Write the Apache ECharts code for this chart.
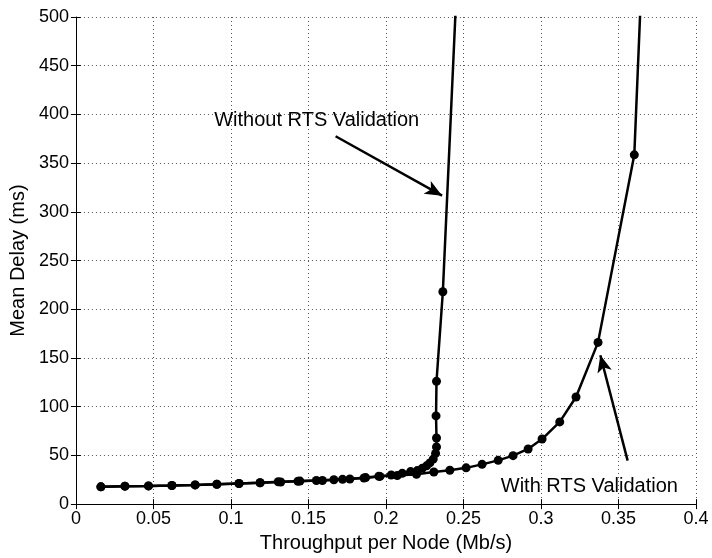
<!DOCTYPE html>
<html>
<head>
<meta charset="utf-8">
<script src="https://cdn.jsdelivr.net/npm/echarts@6/dist/echarts.min.js"></script>
<style>html,body{margin:0;padding:0;background:#fff;}#c{width:712px;height:558px;}</style>
</head>
<body>
<div id="c"></div>
<script>
// Data
var withoutX = [0.0161,0.0316,0.0468,0.0619,0.0769,0.0909,0.1052,0.1188,0.1321,0.1445,0.1590,0.1720,0.1858,0.1961,0.2034,0.2105,0.2159,0.2202,0.2234,0.2262,0.2283,0.2305,0.2320,0.2326,0.2326,0.2323,0.2326,0.2367,0.2490];
var withoutY = [17.7,18.4,18.7,19.1,19.7,20.4,21.2,21.9,22.7,23.6,24.2,25.4,26.8,28.4,29.9,31.6,33.4,34.4,36.7,39.3,42.3,46.2,52.0,58.7,67.9,90.5,126,218,650];
var withX = [0.0161,0.0316,0.0468,0.0619,0.0769,0.0909,0.1052,0.1188,0.1305,0.1432,0.1551,0.1664,0.1767,0.1869,0.1954,0.2073,0.2197,0.2309,0.2412,0.2517,0.2620,0.2724,0.2820,0.2917,0.3007,0.3121,0.3226,0.3368,0.3602,0.3670];
var withY = [17.7,18.4,18.7,19.1,19.7,20.4,21.2,21.9,23.0,23.5,24.2,25.0,25.8,27.2,28.6,29.3,30.6,33.0,34.7,37.2,40.8,44.9,49.7,56.6,66.8,84.4,109.9,166,358.5,620];
var xTicks = {min:0, max:0.4, interval:0.05};
var yTicks = {min:0, max:500, interval:50};
var xName = 'Throughput per Node (Mb/s)';
var yName = 'Mean Delay (ms)';
var labelWithout = 'Without RTS Validation';
var labelWith = 'With RTS Validation';
var arrowWithout = [[0.1675,377.6],[0.2362,316.6]];
var arrowWith = [[0.3559,44.6],[0.3383,152.8]];
var textWithoutPos = [0.1553,393.9];
var textWithPos = [0.3312,18.4];

function zip(a,b){return a.map(function(v,i){return [v,b[i]];});}

var chart = echarts.init(document.getElementById('c'), null, {renderer:'canvas'});
var font = 'Liberation Sans, Arial, Helvetica, sans-serif';
var gridLine = {show:true, lineStyle:{color:'#555', width:1, type:[1,3]}};
chart.setOption({
  animation:false,
  backgroundColor:'#fff',
  grid:{left:75, right:16, top:17, bottom:51, containLabel:false},
  xAxis:[{
    type:'value', min:xTicks.min, max:xTicks.max, interval:xTicks.interval,
    position:'bottom',
    name:xName, nameLocation:'middle', nameGap:25,
    nameTextStyle:{fontFamily:font, fontSize:20, color:'#000'},
    axisLine:{show:true, onZero:false, lineStyle:{color:'#000', width:1}},
    axisTick:{show:true, inside:true, length:5, lineStyle:{color:'#000'}},
    axisLabel:{fontFamily:font, fontSize:18, color:'#000', margin:6,
      formatter:function(v){return String(+v.toFixed(2));}},
    splitLine:gridLine
  },{
    type:'value', min:xTicks.min, max:xTicks.max, interval:xTicks.interval,
    position:'top',
    axisLine:{show:false},
    axisTick:{show:true, inside:true, length:5, lineStyle:{color:'#000'}},
    axisLabel:{show:false}, splitLine:{show:false}
  }],
  yAxis:[{
    type:'value', min:yTicks.min, max:yTicks.max, interval:yTicks.interval,
    position:'left',
    name:yName, nameLocation:'middle', nameGap:47,
    nameTextStyle:{fontFamily:font, fontSize:20, color:'#000'},
    axisLine:{show:true, onZero:false, lineStyle:{color:'#000', width:1}},
    axisTick:{show:true, inside:true, length:5, lineStyle:{color:'#000'}},
    axisLabel:{fontFamily:font, fontSize:18, color:'#000', margin:7},
    splitLine:gridLine
  },{
    type:'value', min:yTicks.min, max:yTicks.max, interval:yTicks.interval,
    position:'right',
    axisLine:{show:false},
    axisTick:{show:true, inside:true, length:5, lineStyle:{color:'#000'}},
    axisLabel:{show:false}, splitLine:{show:false}
  }],
  series:[{
    type:'line', name:labelWithout, data:zip(withoutX,withoutY), clip:true,
    symbol:'circle', symbolSize:9, showAllSymbol:true,
    lineStyle:{color:'#000', width:2.5}, itemStyle:{color:'#000'},
    markLine:{silent:true, symbol:['none','arrow'], symbolSize:[11,17],
      lineStyle:{color:'#000', width:2.5, type:'solid'}, label:{show:false},
      data:[[{coord:arrowWithout[0]},{coord:arrowWithout[1]}]]},
    markPoint:{silent:true, symbol:'circle', symbolSize:0,
      label:{show:true, position:'inside', formatter:labelWithout, fontFamily:font, fontSize:20, color:'#000'},
      data:[{coord:textWithoutPos}]}
  },{
    type:'line', name:labelWith, data:zip(withX,withY), clip:true,
    symbol:'circle', symbolSize:9, showAllSymbol:true,
    lineStyle:{color:'#000', width:2.5}, itemStyle:{color:'#000'},
    markLine:{silent:true, symbol:['none','arrow'], symbolSize:[11,17],
      lineStyle:{color:'#000', width:2.5, type:'solid'}, label:{show:false},
      data:[[{coord:arrowWith[0]},{coord:arrowWith[1]}]]},
    markPoint:{silent:true, symbol:'circle', symbolSize:0,
      label:{show:true, position:'inside', formatter:labelWith, fontFamily:font, fontSize:20, color:'#000'},
      data:[{coord:textWithPos}]}
  }]
});
</script>
</body>
</html>
